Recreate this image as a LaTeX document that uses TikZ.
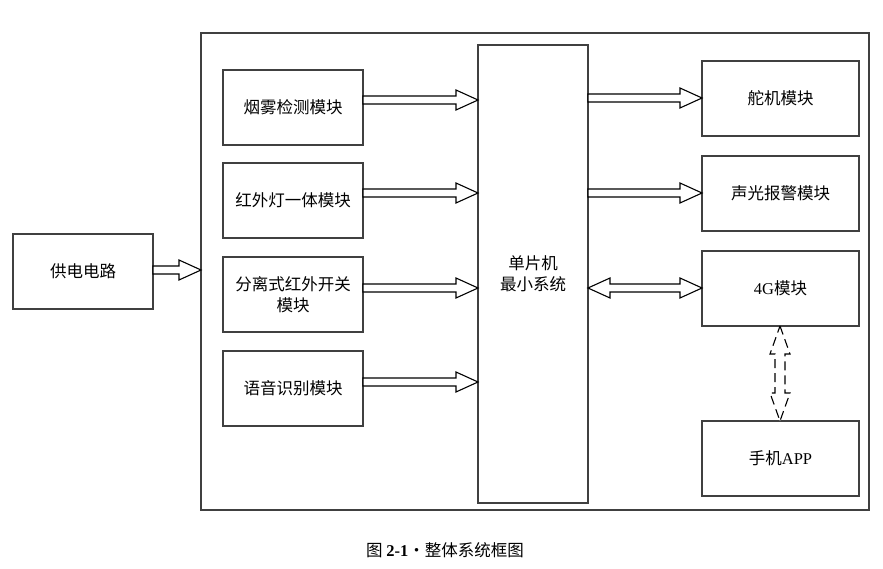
\documentclass[tikz,border=0pt]{standalone}
\usepackage{fontspec}
\setmainfont{Liberation Serif}
\newfontfamily\cjk{Noto Sans CJK SC}
\begin{document}
\begin{tikzpicture}[x=1pt,y=-1pt,
  txt/.style={font=\cjk\fontsize{16.5}{21}\selectfont,align=center},
  box/.style={draw=black!75,line width=1.1pt,inner sep=0pt},
  ar/.style={draw=black,line width=1.1pt,fill=white}]
\useasboundingbox (0,0) rectangle (883,569);
\newcommand\mybox[5]{\node[box,minimum width={#3-#1},minimum height={#4-#2}] (#5) at ({(#1+#3)/2},{(#2+#4)/2}) {};}
\newcommand\harrow[3]{\draw[ar] (#1,#3-4) -- (#2-22,#3-4) -- (#2-22,#3-10) -- (#2,#3) -- (#2-22,#3+10) -- (#2-22,#3+4) -- (#1,#3+4) -- cycle;}
\draw[black!75,line width=1.1pt] (201,33) rectangle (869,510);
\mybox{223}{70}{363}{145}{smoke}
\mybox{223}{163}{363}{238}{ir}
\mybox{223}{257}{363}{332}{sep}
\mybox{223}{351}{363}{426}{voice}
\mybox{13}{234}{153}{309}{power}
\mybox{478}{45}{588}{503}{mcu}
\mybox{702}{61}{859}{136}{servo}
\mybox{702}{156}{859}{231}{sound}
\mybox{702}{251}{859}{326}{g4}
\mybox{702}{421}{859}{496}{app}
\begin{scope}[every node/.style={txt}]
\node at (smoke) {烟雾检测模块};
\node at (ir) {红外灯一体模块};
\node at (sep) {分离式红外开关\\模块};
\node at (voice) {语音识别模块};
\node at (power) {供电电路};
\node at (mcu) {单片机\\最小系统};
\node at (servo) {舵机模块};
\node at (sound) {声光报警模块};
\node at (g4) {{\rmfamily 4G}模块};
\node at (app) {手机{\rmfamily APP}};
\end{scope}
\harrow{363}{478}{100}
\harrow{363}{478}{193}
\harrow{363}{478}{288}
\harrow{363}{478}{382}
\harrow{153}{201}{270}
\harrow{588}{702}{98}
\harrow{588}{702}{193}
\draw[ar] (588,288) -- (610,278) -- (610,284) -- (680,284) -- (680,278) -- (702,288) -- (680,298) -- (680,292) -- (610,292) -- (610,298) -- cycle;
\draw[ar,dash pattern=on 9pt off 5pt] (780,326) -- (790,354) -- (785,354) -- (785,393) -- (790,393) -- (780,421) -- (770,393) -- (775,393) -- (775,354) -- (770,354) -- cycle;
\node[txt] (cap) at (445,550) {图 {\rmfamily\bfseries 2-1}·整体系统框图};
\end{tikzpicture}
\end{document}
